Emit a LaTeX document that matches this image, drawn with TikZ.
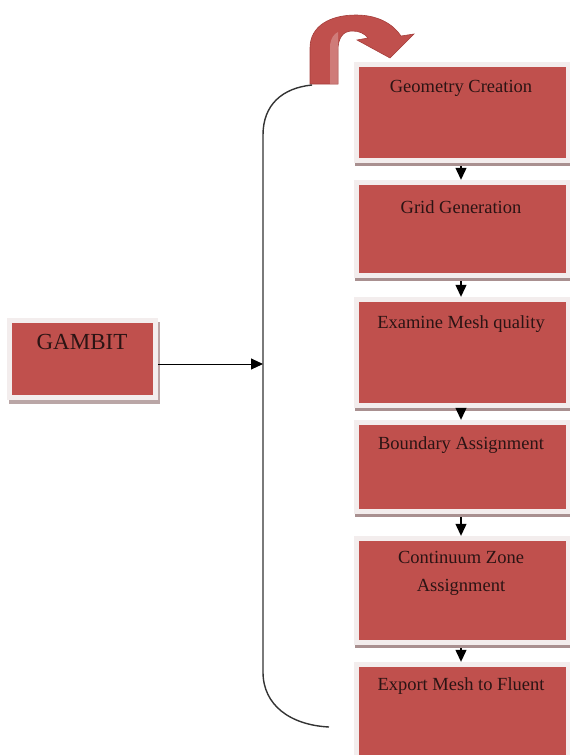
\documentclass[tikz,border=0pt]{standalone}
\usepackage{fontspec}
\setmainfont{Liberation Serif}
\usetikzlibrary{arrows.meta}
\definecolor{boxred}{HTML}{C0504D}
\definecolor{framecol}{HTML}{F3EDED}
\definecolor{shadowcol}{HTML}{A99090}
\definecolor{txtcol}{HTML}{2B1414}
\definecolor{linecol}{HTML}{333333}
\definecolor{arrowdark}{HTML}{A53E3B}
\tikzset{
  redbox/.style={rectangle, fill=boxred, inner sep=0pt,
    preaction={draw=shadowcol, line width=8pt, transform canvas={yshift=-4pt}},
    preaction={draw=framecol, line width=10pt}},
  gambitbox/.style={rectangle, fill=boxred, inner sep=0pt,
    preaction={draw=shadowcol!80, line width=10pt, transform canvas={xshift=2pt,yshift=-4pt}},
    preaction={draw=framecol, line width=10pt}},
  boxtext/.style={text=txtcol, font=\fontsize{18.5}{28}\selectfont, align=center, inner sep=0pt},
  flowarrow/.style={draw=black, line width=1.2pt, -{Triangle[length=12pt,width=11pt]}},
  loopline/.style={draw=linecol, line width=1.4pt}
}
\begin{document}
\begin{tikzpicture}[x=1pt,y=-1pt]
\useasboundingbox (0,0) rectangle (570,755);
% GAMBIT
\node[gambitbox, minimum width=141pt, minimum height=72pt] (g) at (82.5,359) {};
\node[boxtext, font=\fontsize{23}{28}\selectfont] (gt) at (82,342) {GAMBIT};
% steps
\node[redbox, minimum width=207pt, minimum height=91pt] (b1) at (462.5,112.5) {};
\node[redbox, minimum width=207pt, minimum height=88pt] (b2) at (462.5,229) {};
\node[redbox, minimum width=207pt, minimum height=101pt] (b3) at (462.5,352.5) {};
\node[redbox, minimum width=207pt, minimum height=84pt] (b4) at (462.5,467) {};
\node[redbox, minimum width=207pt, minimum height=99pt] (b5) at (462.5,590.5) {};
\node[redbox, minimum width=207pt, minimum height=100pt] (b6) at (462.5,717) {};
\node[boxtext] (t1) at (461,88) {Geometry Creation};
\node[boxtext] (t2) at (461,207) {Grid Generation};
\node[boxtext] (t3) at (461,324) {Examine Mesh quality};
\node[boxtext] (t4) at (461,445) {Boundary Assignment};
\node[boxtext] (t5) at (461,573) {Continuum Zone\\Assignment};
\node[boxtext] (t6) at (461,686) {Export Mesh to Fluent};
% arrows between steps
\foreach \a/\b in {b1/b2,b2/b3,b3/b4,b4/b5,b5/b6}{
  \draw[flowarrow] ([xshift=-1.5pt,yshift=-8pt]\a.south) -- ([xshift=-1.5pt,yshift=5pt]\b.north);
}
% red U-turn arrow
\draw[draw=arrowdark, line width=0.6pt, fill=boxred]
  (310,84) -- (310,48) .. controls (310,26) and (330,15) .. (356,15)
  .. controls (378,15) and (393,24) .. (401,36) -- (414,34) -- (390,58) -- (357,40) -- (368,38)
  .. controls (364,33) and (359,31) .. (352,31) .. controls (343,31) and (338,38) .. (338,50)
  -- (338,84) -- cycle;
\fill[white, opacity=0.25] (330,84) -- (330,45) .. controls (331,38) and (334,34) .. (338,32) -- (338,50) -- (338,84) -- cycle;
\coordinate (utop) at (312,85);
\coordinate (uend) at (329,727);
\coordinate (join) at (263,364);
% loop line
\draw[loopline] (utop) .. controls (282,88) and (263,105) .. (263,135)
  -- (join) -- (263,672) .. controls (263,705) and (290,725) .. (uend);
% GAMBIT arrow
\draw[flowarrow, line width=1pt] ([xshift=5pt]g.east |- join) -- (join);
\end{tikzpicture}
\end{document}
